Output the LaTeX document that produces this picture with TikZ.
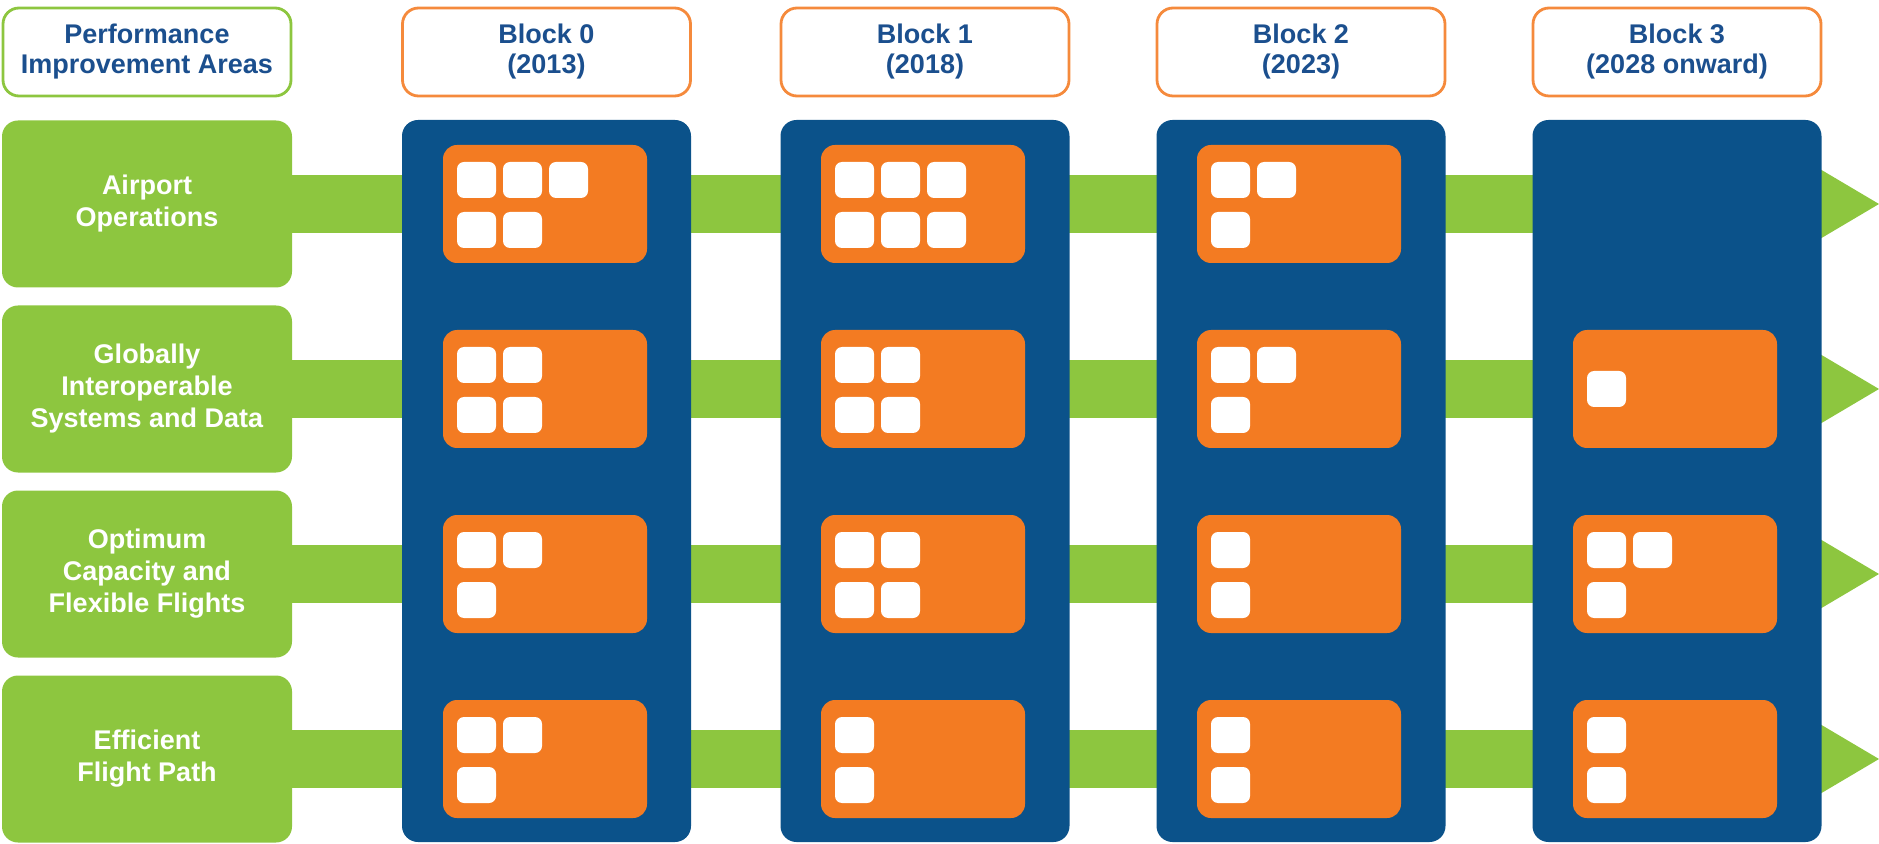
\documentclass[tikz,border=0pt]{standalone}
\usepackage{fontspec}
\setmainfont{Liberation Sans}
\usetikzlibrary{calc}
\definecolor{pgreen}{HTML}{8DC63F}
\definecolor{pblue}{HTML}{0B528A}
\definecolor{porange}{HTML}{F37B22}
\definecolor{pborder}{HTML}{F58A3C}
\definecolor{ptext}{HTML}{1B4F8E}
\tikzset{
  hdr/.style={draw=pborder, line width=1.4pt, fill=white, rounded corners=8pt,
    minimum width=144pt, minimum height=44pt, align=center, inner sep=0pt,
    text=ptext, font=\fontsize{13.5}{15}\selectfont\bfseries},
  hdrpia/.style={hdr, draw=pgreen},
  area/.style={fill=pgreen, rounded corners=8pt, minimum width=145pt,
    minimum height=83.5pt, align=center, inner sep=0pt, text=white,
    font=\fontsize{13.5}{16}\selectfont\bfseries},
  col/.style={fill=pblue, rounded corners=8pt, minimum width=144.5pt,
    minimum height=361pt, inner sep=0pt, outer sep=0pt},
  obox/.style={fill=porange, rounded corners=7pt, minimum width=102pt,
    minimum height=59pt, inner sep=0pt, outer sep=0pt},
  sq/.style={fill=white, rounded corners=3.5pt, minimum width=19.5pt,
    minimum height=18pt, inner sep=0pt, outer sep=0pt},
  bar/.style={fill=pgreen},
}
\newcommand{\sqbox}[4]{\node[sq] (s#1#2#3#4) at ($(o#1#2.north west)+(33.5+46*#3,35+50*#4)$) {};}
\begin{document}
\begin{tikzpicture}[x=0.5pt,y=-0.5pt]
\useasboundingbox (0,0) rectangle (1879,844);
% row centres
\foreach \r/\c in {1/204,2/389,3/574,4/759}{
  \coordinate (bs\r) at (292,\c);
  \coordinate (tip\r) at (1879,\c);
  \fill[bar] (292,\c-29) rectangle (1822,\c+29);
  \fill[bar] (1808,\c-42) -- (tip\r) -- (1808,\c+42) -- cycle;
}
% area boxes
\node[area] (a1) at (147,204) {Airport\\Operations};
\node[area] (a2) at (147,389) {Globally\\Interoperable\\Systems and Data};
\node[area] (a3) at (147,574) {Optimum\\Capacity and\\Flexible Flights};
\node[area] (a4) at (147,759) {Efficient\\Flight Path};
% columns
\foreach \k/\x in {0/546.5,1/925,2/1301,3/1677}{
  \node[col] (c\k) at (\x,481) {};
}
% headers
\node[hdrpia] (h) at (147,52) {Performance\\Improvement Areas};
\node[hdr] (h0) at (546.5,52) {Block 0\\(2013)};
\node[hdr] (h1) at (925,52) {Block 1\\(2018)};
\node[hdr] (h2) at (1301,52) {Block 2\\(2023)};
\node[hdr] (h3) at (1677,52) {Block 3\\(2028 onward)};
% orange boxes: o<row><col>
\foreach \r/\c in {1/204,2/389,3/574,4/759}{
  \foreach \k/\x in {0/545,1/923,2/1299,3/1675}{
    \ifnum\r=1 \ifnum\k=3 \else
      \node[obox] (o\r\k) at (\x,\c) {};
    \fi\else
      \node[obox] (o\r\k) at (\x,\c) {};
    \fi
  }
}
% row 1
\sqbox{1}{0}{0}{0}\sqbox{1}{0}{1}{0}\sqbox{1}{0}{2}{0}\sqbox{1}{0}{0}{1}\sqbox{1}{0}{1}{1}
\sqbox{1}{1}{0}{0}\sqbox{1}{1}{1}{0}\sqbox{1}{1}{2}{0}\sqbox{1}{1}{0}{1}\sqbox{1}{1}{1}{1}\sqbox{1}{1}{2}{1}
\sqbox{1}{2}{0}{0}\sqbox{1}{2}{1}{0}\sqbox{1}{2}{0}{1}
% row 2
\sqbox{2}{0}{0}{0}\sqbox{2}{0}{1}{0}\sqbox{2}{0}{0}{1}\sqbox{2}{0}{1}{1}
\sqbox{2}{1}{0}{0}\sqbox{2}{1}{1}{0}\sqbox{2}{1}{0}{1}\sqbox{2}{1}{1}{1}
\sqbox{2}{2}{0}{0}\sqbox{2}{2}{1}{0}\sqbox{2}{2}{0}{1}
\node[sq] (s23c) at ($(o23.west)+(33.5,0)$) {};
% row 3
\sqbox{3}{0}{0}{0}\sqbox{3}{0}{1}{0}\sqbox{3}{0}{0}{1}
\sqbox{3}{1}{0}{0}\sqbox{3}{1}{1}{0}\sqbox{3}{1}{0}{1}\sqbox{3}{1}{1}{1}
\sqbox{3}{2}{0}{0}\sqbox{3}{2}{0}{1}
\sqbox{3}{3}{0}{0}\sqbox{3}{3}{1}{0}\sqbox{3}{3}{0}{1}
% row 4
\sqbox{4}{0}{0}{0}\sqbox{4}{0}{1}{0}\sqbox{4}{0}{0}{1}
\sqbox{4}{1}{0}{0}\sqbox{4}{1}{0}{1}
\sqbox{4}{2}{0}{0}\sqbox{4}{2}{0}{1}
\sqbox{4}{3}{0}{0}\sqbox{4}{3}{0}{1}
\end{tikzpicture}
\end{document}
